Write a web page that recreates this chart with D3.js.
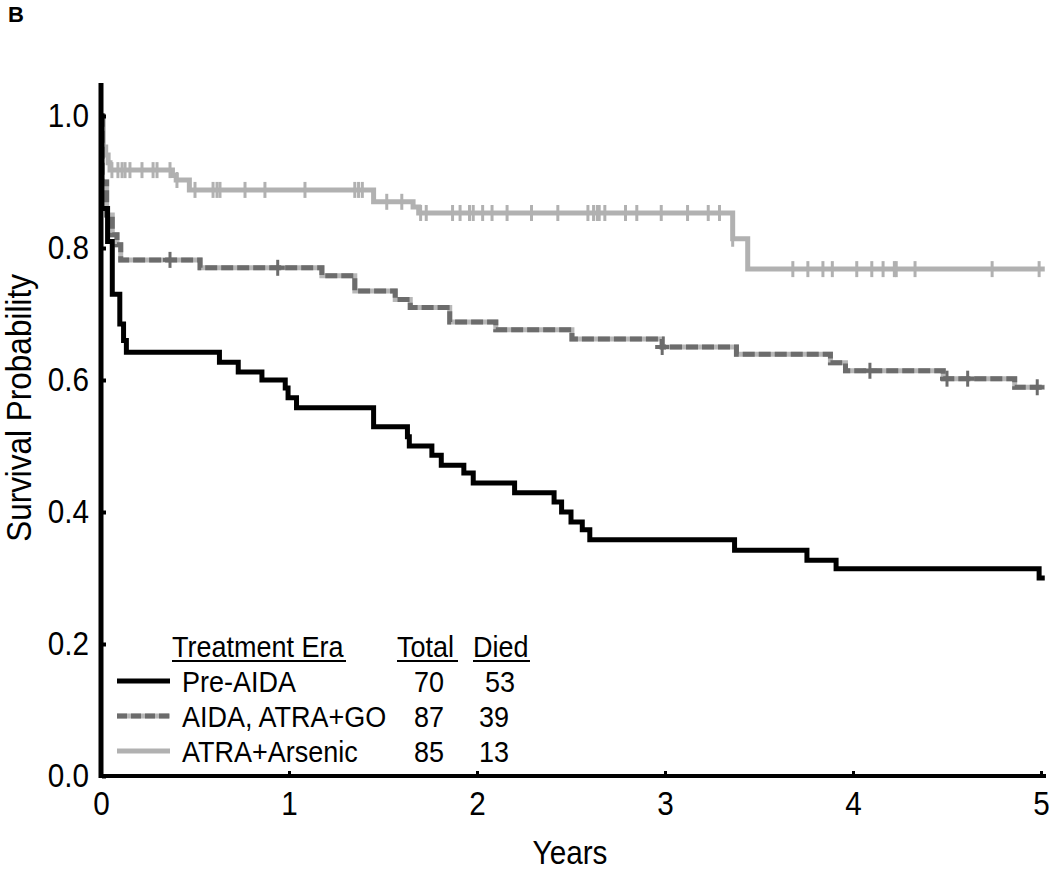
<!DOCTYPE html>
<html><head><meta charset="utf-8">
<script src="https://cdn.jsdelivr.net/npm/d3@7"></script>
<style>body{margin:0;background:#fff}svg{display:block}text{font-family:"Liberation Sans",Arial,sans-serif}</style>
</head><body><svg id="c" width="1050" height="873"></svg>
<script>
// ---- data ----
const xTicks = [0,1,2,3,4,5];
const yTicks = [0,0.2,0.4,0.6,0.8,1.0];
const seriesNames = ["Pre-AIDA","AIDA, ATRA+GO","ATRA+Arsenic"];
const totals = [70,87,85];
const died = [53,39,13];

const preTimes = [0,0.005,0.035,0.06,0.10,0.12,0.135,0.63,0.73,0.856,0.98,0.995,1.04,1.45,1.63,1.64,1.76,1.81,1.93,1.98,2.2,2.41,2.45,2.5,2.56,2.6,3.37,3.755,3.91,4.99];
const preSurv  = [1.0,0.86,0.81,0.73,0.685,0.66,0.642,0.627,0.612,0.600,0.588,0.573,0.558,0.529,0.514,0.5,0.486,0.471,0.459,0.444,0.429,0.415,0.4,0.385,0.373,0.358,0.342,0.327,0.314,0.30];

const aidaTimes = [0,0.006,0.03,0.06,0.085,0.105,0.527,1.175,1.35,1.565,1.645,1.855,2.1,2.505,2.985,3.38,3.88,3.96,4.48,4.86];
const aidaSurv  = [1.0,0.90,0.85,0.82,0.805,0.782,0.770,0.758,0.735,0.722,0.710,0.688,0.676,0.662,0.650,0.639,0.626,0.614,0.602,0.589];
const aidaCens  = [0.367,0.94,2.985,4.09,4.5,4.61,4.98];

const arsTimes = [0,0.012,0.025,0.038,0.048,0.38,0.40,0.47,1.45,1.66,1.69,3.36,3.44];
const arsSurv  = [1.0,0.953,0.941,0.929,0.918,0.910,0.903,0.888,0.870,0.862,0.853,0.814,0.768];
const arsCens  = [0.058,0.09,0.112,0.128,0.154,0.218,0.277,0.298,0.367,0.404,0.5,0.596,0.617,0.633,0.766,0.872,1.085,1.35,1.37,1.39,1.52,1.6,1.70,1.73,1.87,1.91,1.96,1.98,2.03,2.08,2.16,2.29,2.43,2.59,2.62,2.64,2.65,2.68,2.79,2.85,2.98,3.12,3.23,3.29,3.36,3.68,3.76,3.84,3.89,4.02,4.10,4.16,4.22,4.23,4.33,4.74,4.99];

const tEnd = 5.02;
// ---- drawing ----
const svg = d3.select("#c");
const x = d3.scaleLinear([0,5],[101,1041]);
const y = d3.scaleLinear([0,1],[776,116]);
const NARROW = 0.9;

const stepLine = d3.line().x(d=>x(d[0])).y(d=>y(d[1])).curve(d3.curveStepAfter);
function pts(ts, ss){ const p = ts.map((t,i)=>[t,ss[i]]); p.push([tEnd, ss[ss.length-1]]); return p; }
function survAt(ts, ss, t){ let v = ss[0]; for(let i=0;i<ts.length;i++){ if(ts[i]<=t) v=ss[i]; } return v; }

// curves
const g = svg.append("g");
// ATRA+Arsenic
g.append("path").attr("d", stepLine(pts(arsTimes,arsSurv))).attr("fill","none").attr("stroke","#b1b1b1").attr("stroke-width",5);
g.selectAll(".ca").data(arsCens).join("line")
  .attr("x1",d=>x(d)).attr("x2",d=>x(d)).attr("y1",d=>y(survAt(arsTimes,arsSurv,d))-8).attr("y2",d=>y(survAt(arsTimes,arsSurv,d))+8)
  .attr("stroke","#b1b1b1").attr("stroke-width",3);
// AIDA
const aP = stepLine(pts(aidaTimes,aidaSurv));
g.append("path").attr("d", aP).attr("fill","none").attr("stroke","#b8b8b8").attr("stroke-width",5);
g.append("path").attr("d", aP).attr("fill","none").attr("stroke","#6c6c6c").attr("stroke-width",5).attr("stroke-dasharray","12,4");
aidaCens.forEach(d=>{
  const cx = x(d), cy = y(survAt(aidaTimes,aidaSurv,d));
  g.append("line").attr("x1",cx).attr("x2",cx).attr("y1",cy-8).attr("y2",cy+8).attr("stroke","#6c6c6c").attr("stroke-width",3);
  g.append("line").attr("x1",cx-7).attr("x2",cx+7).attr("y1",cy).attr("y2",cy).attr("stroke","#6c6c6c").attr("stroke-width",4);
});
// Pre-AIDA
g.append("path").attr("d", stepLine(pts(preTimes,preSurv))).attr("fill","none").attr("stroke","#000").attr("stroke-width",5);

// axes (drawn over curves)
const ax = svg.append("g");
ax.append("line").attr("x1",x(0)).attr("x2",x(0)).attr("y1",y(1.05)).attr("y2",y(0)+2).attr("stroke","#000").attr("stroke-width",5);
ax.append("line").attr("x1",x(0)-2).attr("x2",x(5)+5).attr("y1",y(0)).attr("y2",y(0)).attr("stroke","#000").attr("stroke-width",4);

const yAxis = svg.append("g").attr("transform",`translate(${x(0)},0)`)
  .call(d3.axisLeft(y).tickValues(yTicks).tickFormat(d3.format(".1f")).tickSize(-5).tickPadding(12));
yAxis.select(".domain").remove();
yAxis.selectAll(".tick line").attr("stroke","#000").attr("stroke-width",4).attr("x1",1);
yAxis.selectAll(".tick text").attr("font-size",33).attr("fill","#000").attr("transform",`scale(${NARROW},1)`).attr("x",-12/NARROW);

const xAxis = svg.append("g").attr("transform",`translate(0,${y(0)})`)
  .call(d3.axisBottom(x).tickValues(xTicks).tickFormat(d3.format("d")).tickSize(-5).tickPadding(14));
xAxis.select(".domain").remove();
xAxis.selectAll(".tick line").attr("stroke","#000").attr("stroke-width",3);
xAxis.selectAll(".tick text").attr("font-size",33).attr("fill","#000").attr("transform",`scale(${NARROW},1)`).attr("dy","0.71em").attr("y",16);

// axis titles
svg.append("text").attr("transform",`translate(570,864) scale(${NARROW},1)`).attr("text-anchor","middle").attr("font-size",33).text("Years");
svg.append("text").attr("transform",`translate(31,408) rotate(-90) scale(${NARROW},1)`).attr("text-anchor","middle").attr("font-size",35).text("Survival Probability");

// panel label
svg.append("text").attr("x",8).attr("y",22).attr("font-size",22).attr("font-weight","bold").text("B");

// legend
const lg = svg.append("g");
function ltext(tx, ty, s, anchor){ return lg.append("text").attr("transform",`translate(${tx},${ty}) scale(${NARROW},1)`).attr("text-anchor",anchor||"start").attr("font-size",30).text(s); }
function uline(x1,x2,yy){ lg.append("line").attr("x1",x1).attr("x2",x2).attr("y1",yy).attr("y2",yy).attr("stroke","#000").attr("stroke-width",2); }
const hdrY = 657;
ltext(172,hdrY,"Treatment Era"); uline(172,346,hdrY+4);
ltext(397,hdrY,"Total"); uline(397,458,hdrY+4);
ltext(473,hdrY,"Died"); uline(473,530,hdrY+4);
const rowY = [692,727,762];
const diedX = [500,494,494];
seriesNames.forEach((n,i)=>{
  const by = rowY[i], ly = by-11;
  if(i===0){ lg.append("line").attr("x1",117).attr("x2",170).attr("y1",ly).attr("y2",ly).attr("stroke","#000").attr("stroke-width",5); }
  if(i===1){ lg.append("line").attr("x1",117).attr("x2",170).attr("y1",ly).attr("y2",ly).attr("stroke","#b8b8b8").attr("stroke-width",5);
             lg.append("line").attr("x1",117).attr("x2",170).attr("y1",ly).attr("y2",ly).attr("stroke","#6c6c6c").attr("stroke-width",5).attr("stroke-dasharray","10,4"); }
  if(i===2){ lg.append("line").attr("x1",117).attr("x2",170).attr("y1",ly).attr("y2",ly).attr("stroke","#b1b1b1").attr("stroke-width",5); }
  ltext(182,by,n);
  ltext(429,by,String(totals[i]),"middle");
  ltext(diedX[i],by,String(died[i]),"middle");
});
</script></body></html>
